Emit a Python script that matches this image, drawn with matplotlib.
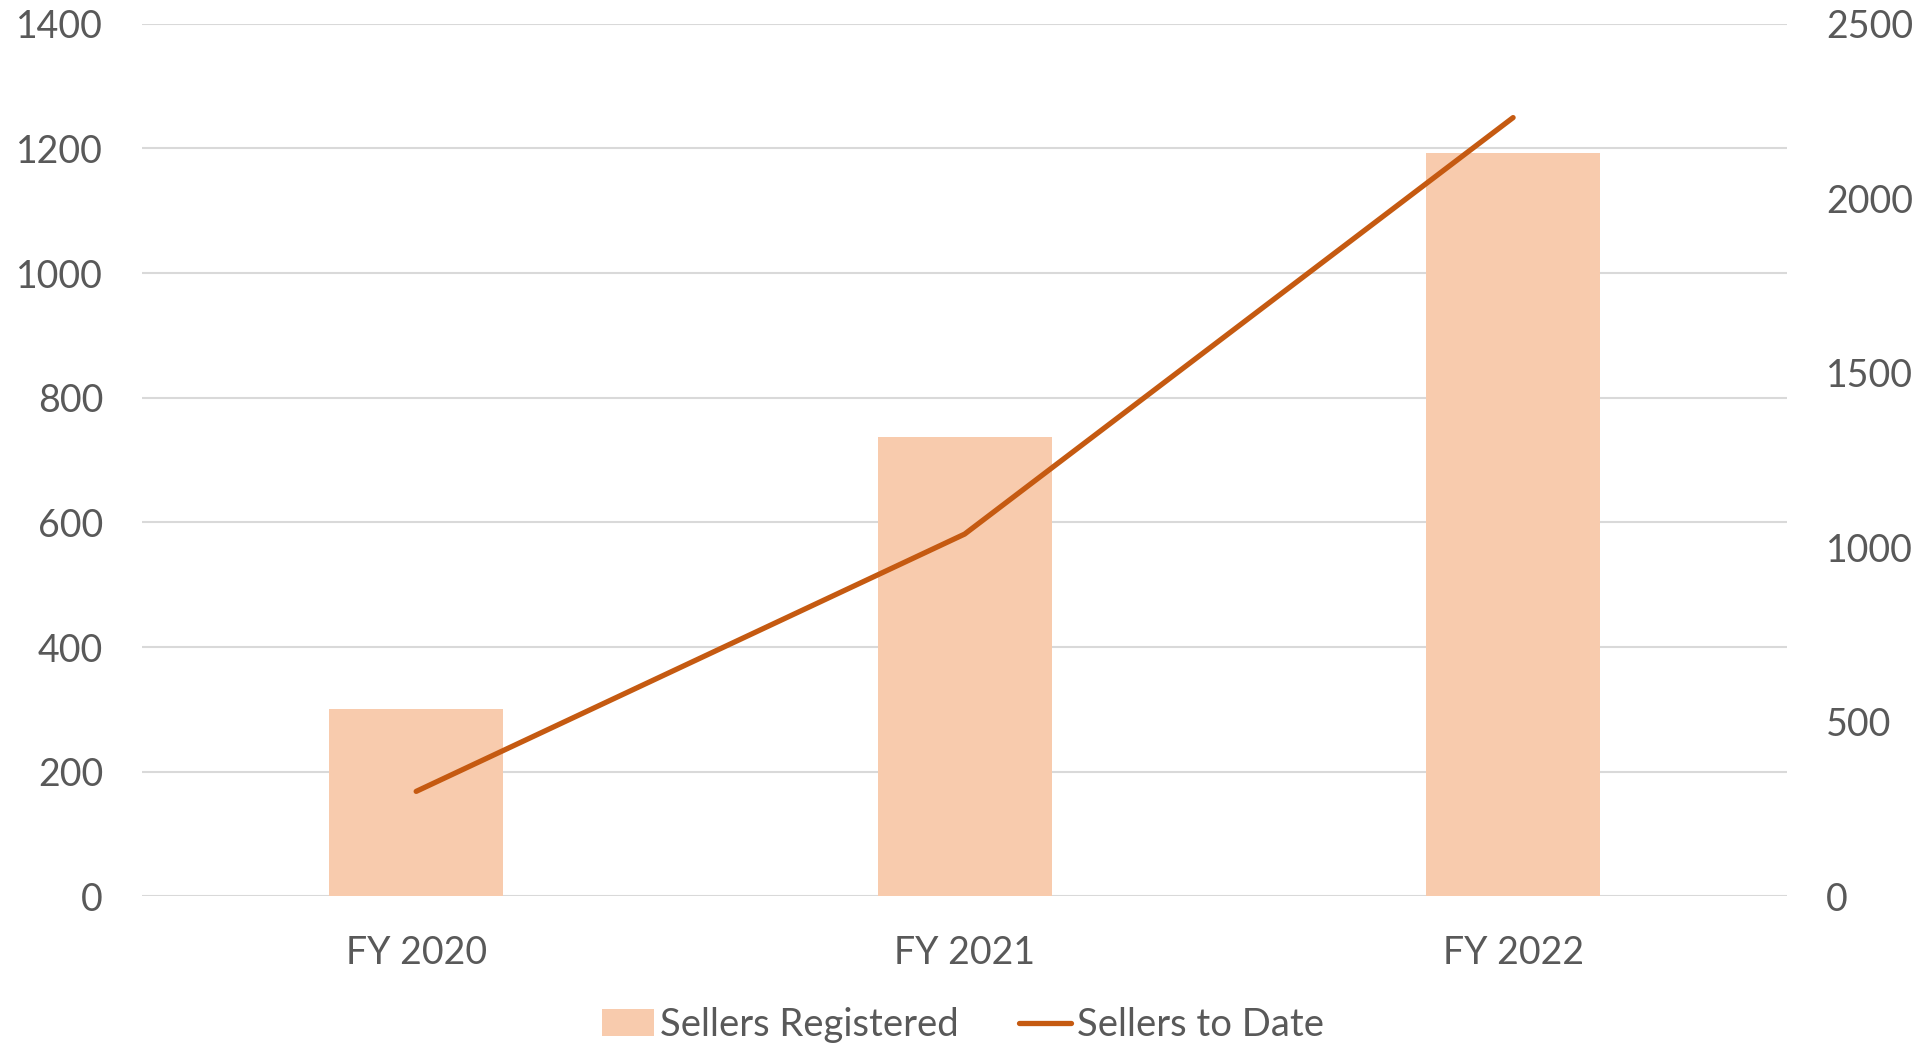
import matplotlib.pyplot as plt
import numpy as np

# DATA
categories = ["FY 2020", "FY 2021", "FY 2022"]
sellers_registered = [301, 737, 1193]
sellers_to_date = [301, 1038, 2231]
left_ticks = [0, 200, 400, 600, 800, 1000, 1200, 1400]
right_ticks = [0, 500, 1000, 1500, 2000, 2500]

# STYLE
bar_color = "#F8CBAD"
line_color = "#C55A11"
text_color = "#595959"
grid_color = "#D9D9D9"
plt.rcParams["font.family"] = ["Lato", "DejaVu Sans"]

fig = plt.figure(figsize=(19.26, 10.48), dpi=100)
ax = fig.add_axes([0.0737, 0.1446, 0.8543, 0.8328])
ax2 = ax.twinx()

x = np.arange(len(categories))
bars = ax.bar(x, sellers_registered, width=0.317, color=bar_color,
              label="Sellers Registered", zorder=2)
line, = ax2.plot(x, sellers_to_date, color=line_color, lw=3.8,
                 solid_capstyle="round", label="Sellers to Date", zorder=3)

ax.set_xlim(-0.5, 2.5)
ax.set_ylim(0, 1400)
ax.set_yticks(left_ticks)
ax2.set_ylim(0, 2500)
ax2.set_yticks(right_ticks)
ax.set_xticks(x)
ax.set_xticklabels(categories)

ax.yaxis.grid(True, color=grid_color, lw=1.5, zorder=0)
ax.set_axisbelow(True)

for a in (ax, ax2):
    for s in a.spines.values():
        s.set_visible(False)
    a.tick_params(length=0, labelsize=27, labelcolor=text_color)
ax.tick_params(axis="y", pad=28)
ax2.tick_params(axis="y", pad=28)
ax.tick_params(axis="x", pad=28)

fig.legend([bars, line], ["Sellers Registered", "Sellers to Date"],
           loc="center", bbox_to_anchor=(0.5, 0.022), ncol=2, frameon=False,
           fontsize=27.5, labelcolor=text_color, handlelength=1.35,
           handletextpad=0.15, columnspacing=1.6)

fig.savefig("out.png", dpi=100)
